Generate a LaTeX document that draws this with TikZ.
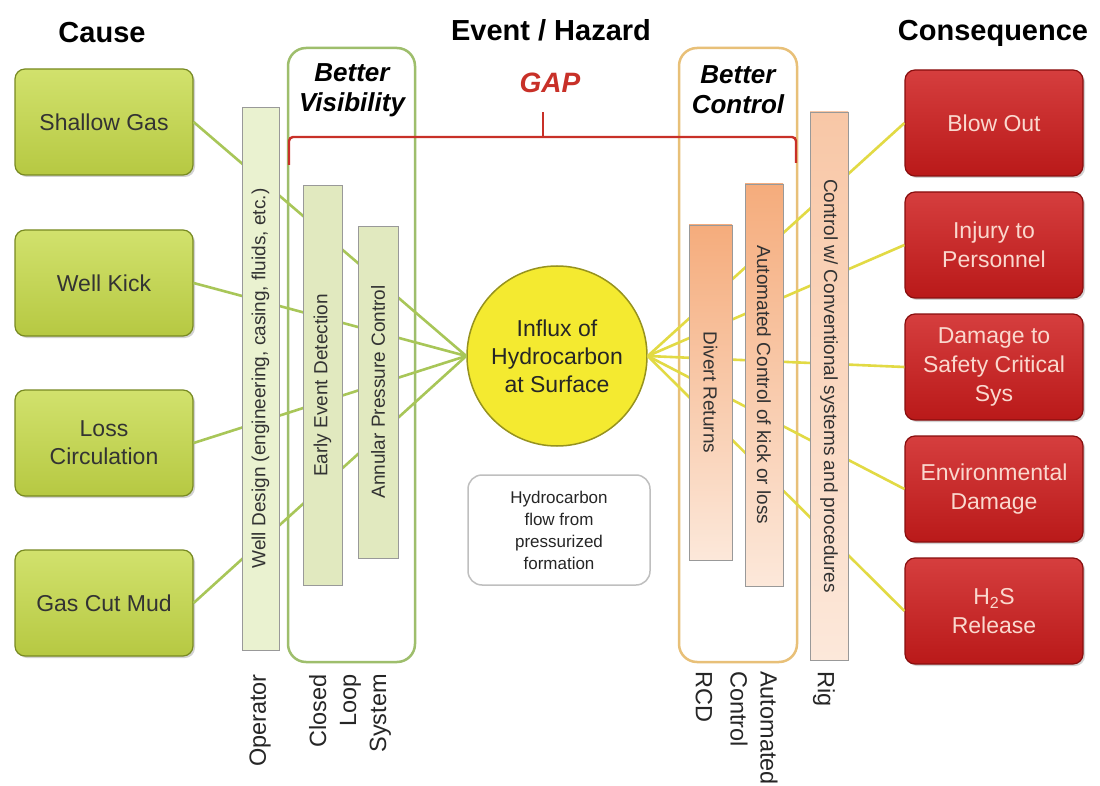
\documentclass[tikz,border=0pt]{standalone}
\usepackage{fontspec}
\setmainfont{Liberation Sans}
\usetikzlibrary{shadows}
\definecolor{causegreen}{RGB}{198,218,72}
\definecolor{causeedge}{RGB}{120,138,34}
\definecolor{bargreen}{RGB}{234,242,208}
\definecolor{frameolive}{RGB}{158,190,108}
\definecolor{linegreen}{RGB}{168,198,88}
\definecolor{consred}{RGB}{206,28,28}
\definecolor{consedge}{RGB}{136,14,14}
\definecolor{constext}{RGB}{250,216,206}
\definecolor{framegold}{RGB}{232,192,120}
\definecolor{barpeach}{RGB}{245,172,124}
\definecolor{barlight}{RGB}{252,232,218}
\definecolor{lineyellow}{RGB}{226,218,68}
\definecolor{hazyellow}{RGB}{244,234,48}
\definecolor{hazedge}{RGB}{150,146,30}
\definecolor{gapred}{RGB}{200,48,40}

\begin{document}
\begin{tikzpicture}[x=1pt, y=-1pt,
  title/.style={font=\fontsize{29}{32}\selectfont\bfseries},
  causebox/.style={draw=causeedge, line width=1.2pt, rounded corners=10pt,
    top color=causegreen!80!white, bottom color=causegreen!92!black,
    minimum width=178pt, minimum height=106pt, align=center, text=black!80,
    font=\fontsize{23}{28}\selectfont,
    drop shadow={opacity=0.35, shadow xshift=2pt, shadow yshift=-2pt}},
  consbox/.style={draw=consedge, line width=1.2pt, rounded corners=10pt,
    top color=consred!85!white, bottom color=consred!90!black,
    minimum width=178pt, minimum height=106pt, align=center, text=constext,
    font=\fontsize{23}{29}\selectfont,
    drop shadow={opacity=0.35, shadow xshift=2pt, shadow yshift=-2pt}},
  greenbar/.style={draw=black!40, fill=bargreen, rotate=90, inner sep=0pt,
    font=\fontsize{19}{22}\selectfont, text=black!80},
  orangebar/.style={draw=black!40, rotate=-90, inner sep=0pt,
    font=\fontsize{19}{22}\selectfont, text=black!80},
  barframe/.style={line width=2.5pt, rounded corners=18pt},
  leftline/.style={linegreen, line width=2.6pt},
  rightline/.style={lineyellow, line width=2.6pt},
  sidelabel/.style={inner sep=0pt, font=\fontsize{23.5}{30}\selectfont, text=black!85}
]
\useasboundingbox[fill=white] (0,0) rectangle (1100,786);

% headings
\node[title] (cause) at (102,33) {Cause};
\node[title] (event) at (551,30) {Event / Hazard};
\node[title] (conseq) at (993,33) {Consequence};

% barrier frames
\draw[barframe, frameolive] (288,48) rectangle (415,662);
\draw[barframe, framegold] (679,48) rectangle (797,662);
\node[font=\fontsize{26}{30}\selectfont\bfseries\itshape, align=center] (vis) at (352,90) {Better\\Visibility};
\node[font=\fontsize{26}{30}\selectfont\bfseries\itshape, align=center] (ctl) at (738,90) {Better\\Control};

% causes
\node[causebox] (shallow) at (104,122) {Shallow Gas};
\node[causebox] (kick) at (104,283) {Well Kick};
\node[causebox] (loss) at (104,443) {Loss\\Circulation};
\node[causebox] (gascut) at (104,603) {Gas Cut Mud};

% consequences
\node[consbox] (blowout) at (994,123) {Blow Out};
\node[consbox] (injury) at (994,245) {Injury to\\Personnel};
\node[consbox] (damage) at (994,367) {Damage to\\Safety Critical\\Sys};
\node[consbox] (enviro) at (994,489) {Environmental\\Damage};
\node[consbox] (hts) at (994,611) {H\textsubscript{2}S\\Release};

% hazard
\node[circle, minimum size=180pt, fill=hazyellow, draw=hazedge, line width=1.5pt,
  align=center, font=\fontsize{23}{28}\selectfont, text=black!85] (influx) at (557,356)
  {Influx of\\Hydrocarbon\\at Surface};
\node[draw=black!25, line width=1.5pt, rounded corners=14pt, minimum width=182pt,
  minimum height=110pt, align=center, font=\fontsize{17}{22}\selectfont, text=black!85]
  (source) at (559,530) {Hydrocarbon\\flow from\\pressurized\\formation};

% threat and consequence lines
\foreach \c in {shallow,kick,loss,gascut}
  \draw[leftline] (\c.east) -- (influx.west);
\foreach \c in {blowout,injury,damage,enviro,hts}
  \draw[rightline] (influx.east) -- (\c.west);

% barriers
\node[greenbar, minimum width=543pt, minimum height=37pt] (welldesign) at (260.5,378.5)
  {Well Design (engineering, casing, fluids, etc.)};
\node[greenbar, fill=bargreen!92!olive, minimum width=400pt, minimum height=39pt] (early)
  at (322.5,385.5) {Early Event Detection};
\node[greenbar, fill=bargreen!92!olive, minimum width=332pt, minimum height=40pt] (annular)
  at (378,392) {Annular Pressure Control};
\node[orangebar, top color=barpeach, bottom color=barlight, minimum width=335pt,
  minimum height=43pt] (divert) at (710.5,392.5) {Divert Returns};
\node[orangebar, top color=barpeach, bottom color=barlight, minimum width=402pt,
  minimum height=38pt] (autoctl) at (764,385) {Automated Control of kick or loss};
\node[orangebar, top color=barpeach!55!barlight, bottom color=barlight, minimum width=548pt,
  minimum height=38pt] (rigctl) at (829,386) {Control w/ Conventional systems and procedures};

% gap bracket
\coordinate (gapl) at (289,165);
\coordinate (gapr) at (796,163);
\coordinate (gapmid) at (543,137);
\draw[gapred, line width=2.4pt, rounded corners=4pt] (gapl) |- (gapmid) -| (gapr);
\draw[gapred, line width=2pt] (gapmid) -- ++(0,-25);
\node[font=\fontsize{28}{30}\selectfont\bfseries\itshape, text=gapred] (gap) at (550,83) {GAP};

% who owns each barrier
\node[sidelabel, rotate=90, anchor=east] (operator) at (260,674) {Operator};
\node[sidelabel, rotate=90, anchor=east, align=right] (closedloop) at (350,674) {Closed\\Loop\\System};
\node[sidelabel, rotate=-90, anchor=west] (rcd) at (704,671) {RCD};
\node[sidelabel, rotate=-90, anchor=west, align=left] (autolabel) at (754,671) {Automated\\Control};
\node[sidelabel, rotate=-90, anchor=west] (rig) at (824,671) {Rig};
\end{tikzpicture}
\end{document}
